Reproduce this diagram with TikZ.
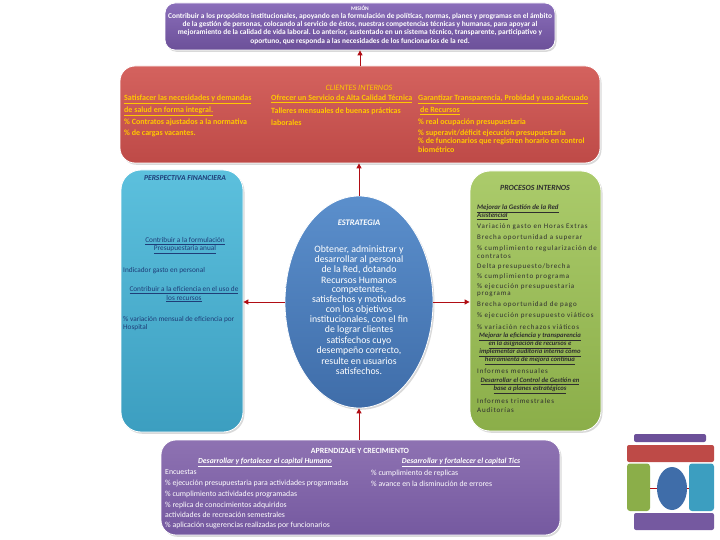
\documentclass[tikz,border=0pt]{standalone}
\usepackage{fontspec}
\setmainfont{Carlito}
\usetikzlibrary{shadows,arrows.meta,shapes.geometric}
\definecolor{misA}{HTML}{8A6EBA}
\definecolor{misB}{HTML}{6C5099}
\definecolor{redA}{HTML}{D4625E}
\definecolor{redB}{HTML}{BE4A47}
\definecolor{goldtxt}{HTML}{FFC800}
\definecolor{bluA}{HTML}{5CC0DD}
\definecolor{bluB}{HTML}{3C9EC0}
\definecolor{navytxt}{HTML}{1F3D78}
\definecolor{grnA}{HTML}{ABCB6B}
\definecolor{grnB}{HTML}{8BAE49}
\definecolor{grntxt}{HTML}{2E2E2E}
\definecolor{ellA}{HTML}{5B8FCC}
\definecolor{ellB}{HTML}{3F6DA9}
\definecolor{aprA}{HTML}{8E72B2}
\definecolor{aprB}{HTML}{7559A0}
\definecolor{arrred}{HTML}{B00D14}
\begin{document}
\begin{tikzpicture}[x=1pt,y=-1pt,
  box/.style={draw=white, line width=0.8pt, inner sep=0pt,
    drop shadow={shadow xshift=1.5pt, shadow yshift=-1.8pt, opacity=0.3}},
  lt/.style={inner sep=0pt, anchor=west},
  ct/.style={inner sep=0pt, anchor=center},
  mtx/.style={ct, text=white, font=\fontsize{7.4}{8}\selectfont\bfseries},
  rtx/.style={lt, text=goldtxt, font=\fontsize{8}{9}\selectfont\bfseries},
  btx/.style={lt, text=navytxt, font=\fontsize{7.3}{8}\selectfont},
  bct/.style={ct, text=navytxt, font=\fontsize{7.3}{8}\selectfont},
  gtx/.style={lt, text=grntxt, font=\fontsize{7}{8}\selectfont\addfontfeature{LetterSpace=12}},
  ghd/.style={lt, text=grntxt, font=\fontsize{6.9}{7}\selectfont\bfseries\itshape},
  gct/.style={ct, text=grntxt, font=\fontsize{6.7}{7}\selectfont\bfseries\itshape},
  etx/.style={ct, text=white, font=\fontsize{9.8}{10}\selectfont},
  atx/.style={lt, text=white, font=\fontsize{7.8}{8}\selectfont},
  ahd/.style={ct, text=white, font=\fontsize{7.7}{8}\selectfont\bfseries\itshape},
  conn/.style={draw=arrred, line width=1pt, -{Triangle[length=5pt,width=5pt]}},
  thumb/.style={rounded corners=2pt},
]
\useasboundingbox (0,0) rectangle (720,540);

% ---------- boxes ----------
\node[box, rounded corners=10pt, top color=misA, bottom color=misB,
  minimum width=390pt, minimum height=47pt] (mision) at (360,26.5) {};
\node[box, rounded corners=15pt, top color=redA, bottom color=redB,
  minimum width=480pt, minimum height=97pt] (clientes) at (360,114.5) {};
\node[box, rounded corners=20pt, top color=bluA, bottom color=bluB,
  minimum width=122pt, minimum height=262pt] (fin) at (182,301) {};
\node[box, rounded corners=20pt, top color=grnA, bottom color=grnB,
  minimum width=131pt, minimum height=260pt] (proc) at (535.5,301) {};
\node[box, rounded corners=15pt, top color=aprA, bottom color=aprB,
  minimum width=399pt, minimum height=95pt] (apr) at (360.5,487.5) {};
\node[box, ellipse, top color=ellA, bottom color=ellB,
  minimum width=148pt, minimum height=212pt] (strat) at (359,302) {};

% ---------- connectors ----------
\draw[conn] (clientes.north) -- (mision.south);
\draw[conn] (strat.north) -- (strat.north |- clientes.south);
\draw[conn] (strat.west) -- (strat.west -| fin.east);
\draw[conn] (strat.east) -- (strat.east -| proc.west);
\draw[conn] (strat.south |- apr.north) -- (strat.south);

% ---------- mision ----------
\node[ct, text=white, font=\fontsize{5.5}{6}\selectfont\bfseries] (mt) at (360,8) {MISIÓN};
\node[mtx] (m1) at (360,17) {Contribuir a los propósitos institucionales, apoyando en la formulación de políticas, normas, planes y programas en el ámbito};
\node[mtx] (m2) at (360,25) {de la gestión de personas, colocando al servicio de éstos, nuestras competencias técnicas y humanas, para apoyar al};
\node[mtx] (m3) at (360,33) {mejoramiento de la calidad de vida laboral. Lo anterior, sustentado en un sistema técnico, transparente, participativo y};
\node[mtx] (m4) at (360,41) {oportuno, que responda a las necesidades de los funcionarios de la red.};

% ---------- clientes internos ----------
\node[ct, text=goldtxt, font=\fontsize{8.2}{9}\selectfont\itshape] (ct) at (359,88) {CLIENTES INTERNOS};
\node[rtx] (c1a) at (124,99) {\underline{Satisfacer las necesidades y demandas}};
\node[rtx] (c1b) at (124,111) {\underline{de salud en forma integral.}};
\node[rtx] (c1c) at (124,122.5) {\% Contratos ajustados a la normativa};
\node[rtx] (c1d) at (124,133.5) {\% de cargas vacantes.};
\node[rtx] (c2a) at (271,99) {\underline{Ofrecer un Servicio de Alta Calidad Técnica}};
\node[rtx] (c2b) at (271,111) {Talleres mensuales de buenas prácticas};
\node[rtx] (c2c) at (271,122.5) {laborales};
\node[rtx] (c3a) at (418,99) {\underline{Garantizar Transparencia, Probidad y uso adecuado}};
\node[rtx] (c3b) at (420,111) {\underline{de Recursos}};
\node[rtx] (c3c) at (418,122.5) {\% real ocupación presupuestaria};
\node[rtx] (c3d) at (418,133) {\% superavit/déficit ejecución presupuestaria};
\node[rtx] (c3e) at (418,141.5) {\% de funcionarios que registren horario en control};
\node[rtx] (c3f) at (418,150) {biométrico};

% ---------- perspectiva financiera ----------
\node[ct, text=navytxt, font=\fontsize{7.6}{8}\selectfont\bfseries\itshape] (ft) at (185,178) {PERSPECTIVA FINANCIERA};
\node[bct] (f1) at (185,241) {\underline{Contribuir a la formulación}};
\node[bct] (f2) at (185,249.5) {\underline{Presupuestaria anual}};
\node[btx] (f3) at (123,271) {Indicador gasto en personal};
\node[bct] (f4) at (184,290) {\underline{Contribuir a la eficiencia en el uso de}};
\node[bct] (f5) at (184,298.5) {\underline{los recursos}};
\node[btx] (f6) at (123,319.5) {\% variación mensual de eficiencia por};
\node[btx] (f7) at (123,327.5) {Hospital};

% ---------- procesos internos ----------
\node[ct, text=grntxt, font=\fontsize{7.9}{8}\selectfont\bfseries\itshape] (pt) at (535,188) {PROCESOS INTERNOS};
\node[ghd] (p1) at (477,208.5) {\underline{Mejorar la Gestión de la Red}};
\node[ghd] (p2) at (477,216.5) {\underline{Asistencial}};
\node[gtx] (p3) at (477,227) {Variación gasto en Horas Extras};
\node[gtx] (p4) at (477,237.5) {Brecha oportunidad a superar};
\node[gtx] (p5) at (477,248.5) {\% cumplimiento regularización de};
\node[gtx] (p6) at (477,256.5) {contratos};
\node[gtx] (p7) at (477,266.5) {Delta presupuesto/brecha};
\node[gtx] (p8) at (477,277) {\% cumplimiento programa};
\node[gtx] (p9) at (477,286.5) {\% ejecución presupuestaria};
\node[gtx] (p10) at (477,294) {programa};
\node[gtx] (p11) at (477,305) {Brecha oportunidad de pago};
\node[gtx] (p12) at (477,316) {\% ejecución presupuesto viáticos};
\node[gtx] (p13) at (477,327) {\% variación rechazos viáticos};
\node[gct] (p14) at (530,337) {\underline{Mejorar la eficiencia y transparencia}};
\node[gct] (p15) at (530,344.8) {\underline{en la asignación de recursos e}};
\node[gct] (p16) at (530,352.6) {\underline{implementar auditoría interna como}};
\node[gct] (p17) at (530,360.4) {\underline{herramienta de mejora continua}};
\node[gtx] (p18) at (477,371) {Informes mensuales};
\node[gct] (p19) at (530,381.5) {\underline{Desarrollar el Control de Gestión en}};
\node[gct] (p20) at (530,389.5) {\underline{base a planes estratégicos}};
\node[gtx] (p21) at (477,401) {Informes trimestrales};
\node[gtx] (p22) at (477,410.5) {Auditorías};

% ---------- estrategia ----------
\node[ct, text=white, font=\fontsize{8.5}{9}\selectfont\bfseries\itshape] (et) at (359,223) {ESTRATEGIA};
\node[etx] (e1) at (359,250) {Obtener, administrar y};
\node[etx] (e2) at (359,260) {desarrollar al personal};
\node[etx] (e3) at (359,270) {de la Red, dotando};
\node[etx] (e4) at (359,280) {Recursos Humanos};
\node[etx] (e5) at (359,290) {competentes,};
\node[etx] (e6) at (359,300) {satisfechos y motivados};
\node[etx] (e7) at (359,310) {con los objetivos};
\node[etx] (e8) at (359,320) {institucionales, con el fin};
\node[etx] (e9) at (359,330) {de lograr clientes};
\node[etx] (e10) at (359,340.5) {satisfechos cuyo};
\node[etx] (e11) at (359,350.5) {desempeño correcto,};
\node[etx] (e12) at (359,361) {resulte en usuarios};
\node[etx] (e13) at (359,371) {satisfechos.};

% ---------- aprendizaje y crecimiento ----------
\node[ct, text=white, font=\fontsize{7.9}{8}\selectfont\bfseries] (at) at (360,451) {APRENDIZAJE Y CRECIMIENTO};
\node[ahd] (a1) at (265,462) {\underline{Desarrollar y fortalecer el capital Humano}};
\node[ahd] (a2) at (461,462) {\underline{Desarrollar y fortalecer el capital Tics}};
\node[atx] (a3) at (165,472.5) {Encuestas};
\node[atx] (a4) at (165,483.5) {\% ejecución presupuestaria para actividades programadas};
\node[atx] (a5) at (165,494.5) {\% cumplimiento actividades programadas};
\node[atx] (a6) at (165,505) {\% replica de conocimientos adquiridos};
\node[atx] (a7) at (165,515) {actividades de recreación semestrales};
\node[atx] (a8) at (165,525) {\% aplicación sugerencias realizadas por funcionarios};
\node[atx] (a9) at (371,473) {\% cumplimiento de replicas};
\node[atx] (a10) at (371,483.5) {\% avance en la disminución de errores};

% ---------- thumbnail ----------
\fill[thumb, misB] (634,434) rectangle (706,442);
\fill[thumb, redB] (627,445) rectangle (714,462);
\fill[thumb, grnB, rounded corners=3pt] (627,463.5) rectangle (650,511);
\fill[thumb, bluB, rounded corners=3pt] (689,463.5) rectangle (714,511);
\fill[ellB] (672,488.5) ellipse [x radius=15, y radius=21.5];
\fill[thumb, aprB] (634,513) rectangle (714,530);
\draw[arrred, line width=0.3pt] (650,488.5) -- (657,488.5) (687,488.5) -- (689,488.5);
\end{tikzpicture}
\end{document}
